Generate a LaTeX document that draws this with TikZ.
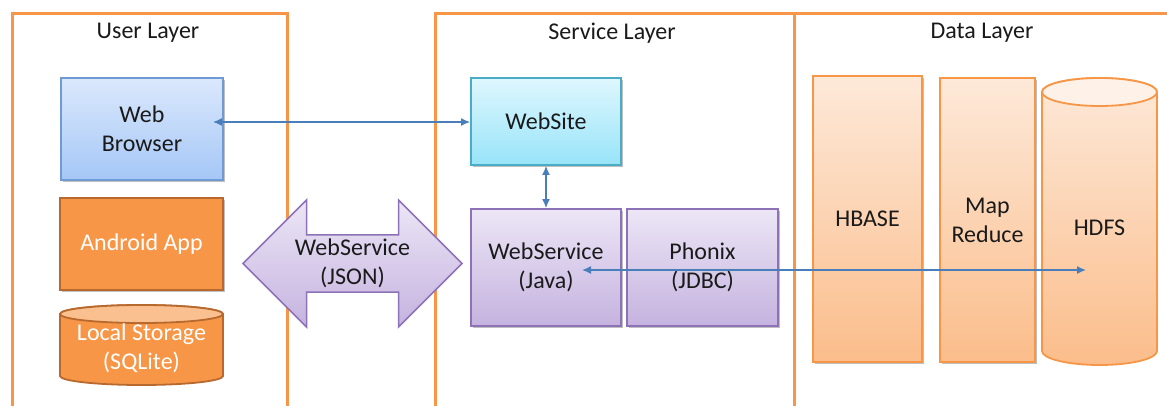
\documentclass[tikz,border=0pt]{standalone}
\usepackage{fontspec}
\setmainfont{Carlito}
\usetikzlibrary{shapes.arrows,arrows.meta,shadows}

\definecolor{frameorange}{HTML}{F79646}
\definecolor{deeporange}{HTML}{B8692E}
\definecolor{lightorange}{HTML}{FAC090}
\definecolor{paleorangetop}{HTML}{FDE9D9}
\definecolor{paleorangebot}{HTML}{FBBD8B}
\definecolor{blueedge}{HTML}{6F9AD4}
\definecolor{bluetop}{HTML}{DBE8FC}
\definecolor{bluebot}{HTML}{A5C7F6}
\definecolor{cyanedge}{HTML}{4BACC6}
\definecolor{cyantop}{HTML}{DFF7FE}
\definecolor{cyanbot}{HTML}{98E4F9}
\definecolor{purpleedge}{HTML}{8E72B8}
\definecolor{purpletop}{HTML}{ECE6F6}
\definecolor{purplebot}{HTML}{C5B3DF}
\definecolor{linkblue}{HTML}{4A7EBB}
\definecolor{inkgray}{HTML}{1A1A1A}

\begin{document}
\begin{tikzpicture}[x=1pt,y=1pt,
  txt/.style={font=\fontsize{24}{29}\selectfont, text=inkgray, align=center},
  layerbox/.style={draw=frameorange, line width=3pt, inner sep=0pt, anchor=north west},
  softshadow/.style={drop shadow={shadow xshift=1.5pt, shadow yshift=-2pt, fill=black, opacity=0.25}},
  box/.style={txt, rectangle, line width=1.8pt, inner sep=0pt, softshadow},
  bluebox/.style={box, draw=blueedge, top color=bluetop, bottom color=bluebot},
  cyanbox/.style={box, draw=cyanedge, top color=cyantop, bottom color=cyanbot},
  purplebox/.style={box, draw=purpleedge, top color=purpletop, bottom color=purplebot},
  orangebox/.style={box, draw=deeporange, fill=frameorange, text=white},
  databox/.style={box, draw=frameorange, top color=paleorangetop, bottom color=paleorangebot},
  link/.style={draw=linkblue, line width=1.4pt, {Latex[length=9pt,width=8pt]}-{Latex[length=9pt,width=8pt]}},
]
\useasboundingbox (0,0) rectangle (1167,405);
\clip (0,0) rectangle (1167,405);
\fill[white] (0,0) rectangle (1167,405);

% layer frames
\node[layerbox, minimum width=275, minimum height=410] (userL) at (11,393) {};
\node[layerbox, minimum width=359, minimum height=410] (serviceL) at (434,393) {};
\node[layerbox, minimum width=390, minimum height=410] (dataL) at (793,393) {};
\node[txt] (userT) at (148,372) {User Layer};
\node[txt] (serviceT) at (612,372) {Service Layer};
\node[txt] (dataT) at (982,372) {Data Layer};

% user layer
\node[bluebox, minimum width=162, minimum height=102] (browser) at (142,276) {Web\\Browser};
\node[orangebox, minimum width=163, minimum height=92] (android) at (141.5,161) {Android App};

% local storage cylinder
\path[draw=deeporange, line width=1.8pt, fill=frameorange]
  (60,91) -- (60,29) arc[start angle=180, end angle=360, x radius=81.5, y radius=9]
  -- (223,91) arc[start angle=0, end angle=180, x radius=81.5, y radius=9] -- cycle;
\path[draw=deeporange, line width=1.8pt, fill=lightorange]
  (141.5,91) ellipse[x radius=81.5, y radius=9];
\node[txt, text=white] (storage) at (141.5,57) {Local Storage\\(SQLite)};

% JSON web service arrow
\node[txt, double arrow, draw=purpleedge, line width=1.5pt, top color=purpletop, bottom color=purplebot,
      minimum height=219, minimum width=127, double arrow head extend=31, inner sep=0pt]
  (json) at (352.5,141.5) {WebService\\(JSON)};

% service layer
\node[cyanbox, minimum width=150, minimum height=87] (site) at (546,283.5) {WebSite};
\node[purplebox, minimum width=150, minimum height=117] (java) at (546,137.5) {WebService\\(Java)};
\node[purplebox, minimum width=151, minimum height=117] (phonix) at (702.5,137.5) {Phonix\\(JDBC)};

% data layer
\node[databox, minimum width=109, minimum height=286] (hbase) at (867.5,186) {HBASE};
\node[databox, minimum width=95, minimum height=284] (mapred) at (987.5,185) {Map\\Reduce};

% HDFS cylinder
\path[draw=frameorange, line width=1.8pt, top color=paleorangetop, bottom color=paleorangebot]
  (1042,313) -- (1042,54) arc[start angle=180, end angle=360, x radius=57.5, y radius=14]
  -- (1157,313) arc[start angle=0, end angle=180, x radius=57.5, y radius=14] -- cycle;
\path[draw=frameorange, line width=1.8pt, fill=paleorangetop!60!white]
  (1099.5,313) ellipse[x radius=57.5, y radius=14];
\node[txt] (hdfs) at (1099.5,177) {HDFS};

% connectors
\coordinate (browserPt) at (213,283);
\coordinate (javaPt) at (582,135);
\coordinate (hdfsPt) at (1086,135);
\draw[link] (browserPt) -- (site.west |- browserPt);
\draw[link] (site.south) -- (java.north);
\draw[link] (javaPt) -- (hdfsPt);
\end{tikzpicture}
\end{document}
